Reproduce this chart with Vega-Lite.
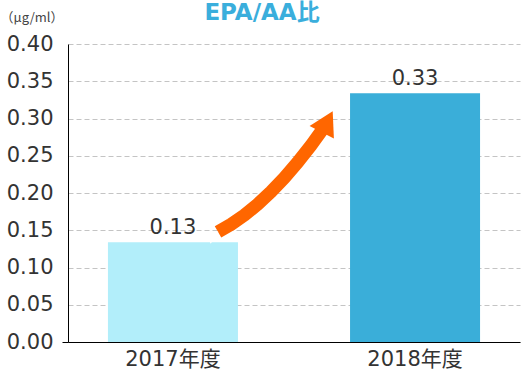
{
  "$schema": "https://vega.github.io/schema/vega-lite/v6.json",
  "width": 452,
  "height": 298,
  "autosize": {"type": "none"},
  "padding": {"left": 68, "top": 44, "right": 3, "bottom": 29},
  "background": "white",
  "title": {
    "text": "EPA/AA比",
    "anchor": "middle",
    "frame": "group",
    "baseline": "bottom",
    "dx": -32,
    "offset": -37,
    "fontSize": 23,
    "font": "DejaVu Sans, Noto Sans CJK JP",
    "fontWeight": "bold",
    "color": "#3aaedc"
  },
  "config": {"view": {"stroke": null}, "font": "DejaVu Sans"},
  "datasets": {
    "bars": [
      {"year": "2017年度", "value": 0.134, "label": "0.13"},
      {"year": "2018年度", "value": 0.334, "label": "0.33"}
    ],
    "shaft": [
      {"t": 0, "px": 0.3319, "value": 0.1477},
      {"t": 1, "px": 0.3607, "value": 0.1578},
      {"t": 2, "px": 0.3898, "value": 0.1701},
      {"t": 3, "px": 0.4191, "value": 0.1846},
      {"t": 4, "px": 0.4486, "value": 0.2013},
      {"t": 5, "px": 0.4783, "value": 0.2202},
      {"t": 6, "px": 0.5082, "value": 0.2413},
      {"t": 7, "px": 0.5383, "value": 0.2645},
      {"t": 8, "px": 0.5686, "value": 0.2899}
    ],
    "heads": [
      {"part": "head", "px": 0.5735, "value": 0.2956, "angle": 27.5},
      {"part": "notch", "px": 0.3206, "value": 0.1442, "angle": 62.5}
    ]
  },
  "encoding": {
    "y": {
      "field": "value",
      "type": "quantitative",
      "scale": {"domain": [0, 0.4], "nice": false},
      "axis": {
        "title": "（μg/ml）",
        "titleAngle": 0,
        "titleAlign": "left",
        "titleBaseline": "middle",
        "titleX": -68,
        "titleY": -27,
        "titleFontSize": 13,
        "titleFontWeight": "normal",
        "titleColor": "#444444",
        "titleFont": "Noto Sans CJK JP",
        "values": [0, 0.05, 0.1, 0.15, 0.2, 0.25, 0.3, 0.35, 0.4],
        "format": ".2f",
        "labelOverlap": false,
        "labelFont": "DejaVu Sans",
        "labelFontSize": 21,
        "labelColor": "#333333",
        "labelPadding": 9,
        "tickSize": 6,
        "tickColor": {"condition": {"test": "datum.value === 0", "value": "#000000"}, "value": "transparent"},
        "domainColor": "#000000",
        "domainWidth": 1,
        "grid": true,
        "gridDash": [5, 3],
        "gridColor": "#c4c4c4",
        "gridWidth": 1
      }
    }
  },
  "layer": [
    {
      "data": {"name": "bars"},
      "layer": [
        {
          "mark": {"type": "bar"},
          "encoding": {
            "x": {
              "field": "year",
              "type": "nominal",
              "scale": {"paddingInner": 0.463, "paddingOuter": 0.165},
              "axis": {
                "title": null,
                "labelAngle": 0,
                "labelFontSize": 21,
                "labelColor": "#333333",
                "labelFont": "DejaVu Sans, Noto Sans CJK JP",
                "labelPadding": 6,
                "ticks": false,
                "domainColor": "#000000",
                "domainWidth": 1,
                "grid": false
              }
            },
            "color": {
              "field": "year",
              "type": "nominal",
              "scale": {"domain": ["2017年度", "2018年度"], "range": ["#b2eefa", "#3aaed9"]},
              "legend": null
            }
          }
        },
        {
          "mark": {"type": "text", "baseline": "bottom", "dy": -4, "fontSize": 21, "color": "#333333", "font": "DejaVu Sans"},
          "encoding": {
            "x": {"field": "year", "type": "nominal"},
            "text": {"field": "label"}
          }
        }
      ]
    },
    {
      "data": {"name": "shaft"},
      "mark": {"type": "line", "color": "#ff6600", "strokeWidth": 13, "strokeCap": "butt", "strokeJoin": "round"},
      "encoding": {
        "x": {"field": "px", "type": "quantitative", "scale": {"domain": [0, 1], "nice": false, "zero": false}, "axis": null},
        "order": {"field": "t"}
      }
    },
    {
      "data": {"name": "heads"},
      "mark": {"type": "point", "filled": true, "opacity": 1, "shape": "triangle-up", "strokeWidth": 0},
      "encoding": {
        "x": {"field": "px", "type": "quantitative", "scale": {"domain": [0, 1], "nice": false, "zero": false}, "axis": null},
        "angle": {"field": "angle", "type": "quantitative", "scale": null},
        "color": {"field": "part", "type": "nominal", "scale": {"domain": ["head", "notch"], "range": ["#ff6600", "#ffffff"]}, "legend": null},
        "size": {"field": "part", "type": "nominal", "scale": {"domain": ["head", "notch"], "range": [750, 200]}, "legend": null}
      }
    }
  ],
  "resolve": {"scale": {"x": "independent", "color": "independent"}}
}
